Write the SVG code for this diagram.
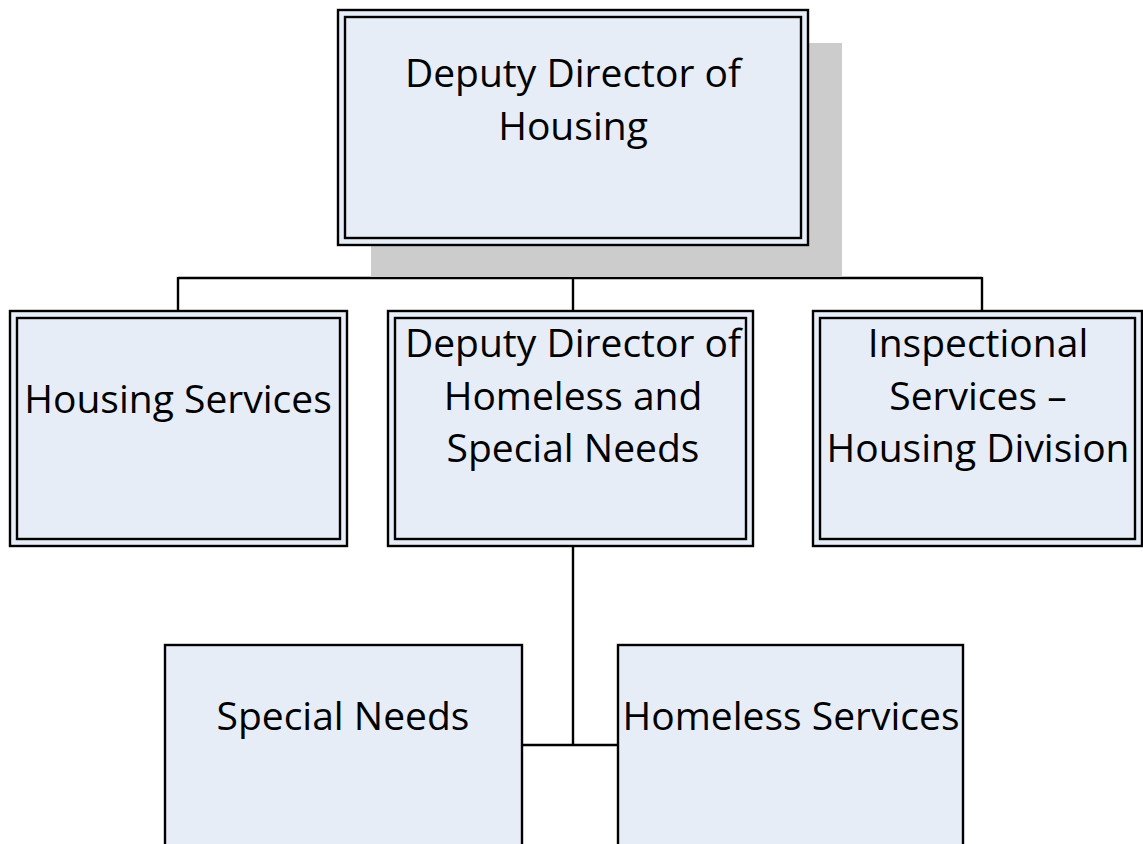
<svg xmlns="http://www.w3.org/2000/svg" width="1143" height="844" viewBox="0 0 1143 844">
<style>
.box{fill:#E7EDF7;stroke:#000;stroke-width:2.4}
.inner{fill:none;stroke:#000;stroke-width:2.4}
.shadow{fill:#CCCCCC}
.conn{stroke:#000;stroke-width:2.4;fill:none}
text{font-family:"Open Sans","Noto Sans",sans-serif;font-size:39px;fill:#000;text-anchor:middle}
</style>
<rect width="1143" height="844" fill="#fff"/>
<g id="connectors">
<path class="conn" d="M573 245V311M178 278H982M178 277V311M982 277V311M573 546V745M522 745H618"/>
</g>
<g id="node-deputy-director-housing">
<rect class="shadow" x="371" y="43" width="471" height="234"/>
<rect class="box" x="338" y="10" width="470" height="235"/>
<rect class="inner" x="345" y="17" width="456" height="221"/>
<text x="573" y="87">Deputy Director of</text>
<text x="573" y="140">Housing</text>
</g>
<g id="node-housing-services">
<rect class="box" x="10" y="311" width="337" height="235"/>
<rect class="inner" x="17" y="318" width="323" height="221"/>
<text x="178" y="413">Housing Services</text>
</g>
<g id="node-deputy-director-homeless">
<rect class="box" x="388" y="311" width="365" height="235"/>
<rect class="inner" x="395" y="318" width="351" height="221"/>
<text x="573" y="357">Deputy Director of</text>
<text x="573" y="410">Homeless and</text>
<text x="573" y="462">Special Needs</text>
</g>
<g id="node-inspectional-services">
<rect class="box" x="813" y="311" width="329" height="235"/>
<rect class="inner" x="820" y="318" width="315" height="221"/>
<text x="978" y="357">Inspectional</text>
<text x="978" y="410">Services –</text>
<text x="978" y="462">Housing Division</text>
</g>
<g id="node-special-needs">
<rect class="box" x="165" y="645" width="357" height="220"/>
<text x="343" y="730">Special Needs</text>
</g>
<g id="node-homeless-services">
<rect class="box" x="618" y="645" width="345" height="220"/>
<text x="791" y="730">Homeless Services</text>
</g>
</svg>
